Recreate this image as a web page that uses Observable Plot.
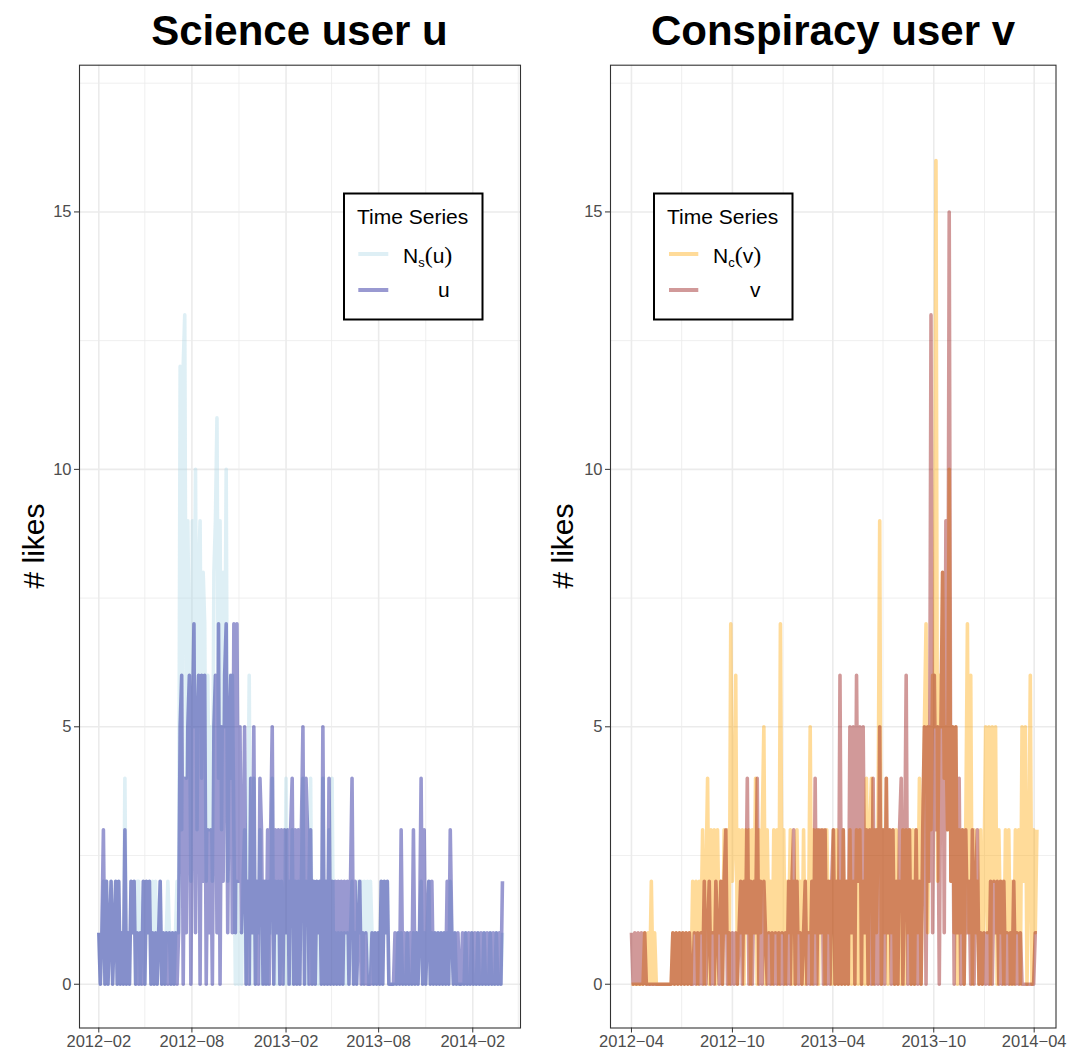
<!DOCTYPE html>
<html><head><meta charset="utf-8">
<script src="https://cdn.jsdelivr.net/npm/d3@7"></script>
<script src="https://cdn.jsdelivr.net/npm/@observablehq/plot@0.6"></script>
<style>
body{margin:0;background:#fff;}
#root{position:relative;width:1081px;height:1053px;overflow:hidden;font-family:"Liberation Sans",Arial,sans-serif;background:#fff;}
#left,#right{position:absolute;top:0;}
#left{left:0}
#right{left:540px}
#overlay{position:absolute;left:0;top:0;pointer-events:none;}
</style></head><body>
<div id="root">
<div id="left"></div>
<div id="right"></div>
<svg id="overlay" width="1081" height="1053" font-family="Liberation Sans, Arial, sans-serif">
  <text x="299.5" y="45" text-anchor="middle" font-size="42" font-weight="bold">Science user u</text>
  <text x="833" y="45" text-anchor="middle" font-size="42" font-weight="bold">Conspiracy user v</text>
  <text transform="translate(44,546) rotate(-90)" text-anchor="middle" font-size="30"># likes</text>
  <text transform="translate(573,546) rotate(-90)" text-anchor="middle" font-size="30"># likes</text>
  <g id="legL">
    <rect x="344" y="193.5" width="138.5" height="126" fill="#fff" stroke="#000" stroke-width="2"/>
    <text x="357" y="224" font-size="21">Time Series</text>
    <line x1="358.3" x2="388.3" y1="254" y2="254" stroke="lightblue" stroke-opacity="0.4" stroke-width="4"/>
    <line x1="358.3" x2="388.3" y1="290" y2="290" stroke="darkblue" stroke-opacity="0.4" stroke-width="4"/>
    <text x="403" y="263" font-size="21">N<tspan font-size="13" dy="4">s</tspan><tspan dy="-4" font-family="Liberation Serif, serif" font-size="24">(</tspan>u<tspan font-family="Liberation Serif, serif" font-size="24">)</tspan></text>
    <text x="438" y="297" font-size="21">u</text>
  </g>
  <g id="legR">
    <rect x="654" y="193.5" width="138.5" height="126" fill="#fff" stroke="#000" stroke-width="2"/>
    <text x="667" y="224" font-size="21">Time Series</text>
    <line x1="669" x2="698.3" y1="254" y2="254" stroke="orange" stroke-opacity="0.4" stroke-width="4"/>
    <line x1="669" x2="698.3" y1="290" y2="290" stroke="darkred" stroke-opacity="0.4" stroke-width="4"/>
    <text x="713" y="263" font-size="21">N<tspan font-size="13" dy="4">c</tspan><tspan dy="-4" font-family="Liberation Serif, serif" font-size="24">(</tspan>v<tspan font-family="Liberation Serif, serif" font-size="24">)</tspan></text>
    <text x="750" y="297" font-size="21">v</text>
  </g>
</svg>
</div>
<script>
// ---- data: likes per 3-day step ----
const stepDays = 3;
const uStart = "2012-02-01";
const vStart = "2012-04-01";

const uLikes = [
1,0,1,3,0,2,0,1,2,0, 1,2,0,2,0,1,0,3,0,1, 0,2,1,2,0,1,0,1,0,2, 0,2,1,2,0,1,0,1,0,1,
2,0,1,0,1,0,1,0,1,0, 1,0,1,5,6,0,4,1,5,6, 0,5,7,1,5,6,0,6,2,6, 0,3,1,3,0,5,6,1,7,0,
5,2,6,7,1,5,6,1,7,1, 7,2,5,1,2,5,0,2,0,4, 1,5,0,2,0,4,3,0,2,0, 3,0,3,5,0,3,1,3,0,3,
0,3,1,3,0,3,4,0,3,0, 3,0,3,5,0,4,3,0,3,0, 2,0,2,1,2,0,5,0,2,0, 4,0,2,0,2,0,2,0,2,0,
2,1,2,0,2,4,0,2,0,1, 2,0,1,0,1,0,0,0,1,0, 1,0,1,0,2,0,2,1,2,0, 0,0,0,1,0,1,0,3,0,1,
0,1,0,1,0,3,0,1,0,1, 4,0,3,0,1,2,0,2,0,1, 0,1,0,1,0,1,0,2,0,3, 1,0,1,0,1,0,0,1,0,1,
0,1,0,1,0,1,0,1,0,1, 0,1,0,1,0,1,0,1,0,1, 0,1,0,2];

const nsLikes = [
1,0,1,2,0,2,0,1,2,0, 1,2,0,2,0,1,0,4,0,1, 0,2,1,2,0,2,2,0,1,2, 0,2,1,2,0,2,0,2,0,1,
2,0,1,0,1,2,1,0,1,0, 1,2,1,12,3,12,13,4,9,6, 2,9,5,10,3,8,9,4,8,7, 2,6,3,5,2,8,9,11,4,9,
3,8,5,10,2,6,4,6,3,0, 2,0,1,0,2,3,0,2,6,0, 2,4,0,2,1,3,0,2,0,2, 0,2,1,4,0,2,0,2,0,2,
1,0,4,0,2,0,3,0,2,0, 2,0,2,4,0,2,0,2,4,0, 2,0,2,0,2,0,4,0,2,0, 3,0,4,0,1,0,1,0,1,0,
1,0,1,0,1,2,0,1,0,2, 1,2,0,2,1,2,0,2,1,0, 1,0,1,0,2,0,2,1,2,0, 0,0,0,0,0,1,0,1,0,0,
0,1,0,0,0,1,0,1,0,1, 2,0,1,0,1,2,0,1,0,1, 0,1,0,1,0,1,0,1,0,2, 1,0,1,0,0,0,0,0,0,1,
0,0,0,1,0,0,0,1,0,0, 0,1,0,0,0,1,0,0,0,1, 0,0,0,1];

const vLikes = [
1,0,1,0,1,0,1,0,1,0, 0,0,0,0,0,0,0,0,0,0, 0,0,0,0,0,1,0,1,0,1, 0,1,0,1,0,1,0,0,1,0,
1,0,1,0,2,0,1,2,0,1, 0,2,1,0,2,0,2,3,0,1, 0,1,0,1,0,1,2,0,2,1, 4,0,2,0,2,1,4,0,2,0,
2,1,0,1,0,1,0,1,0,1, 0,1,0,1,0,2,0,2,3,0, 2,0,1,0,1,2,0,1,0,2, 0,4,0,3,1,3,0,3,0,2,
0,2,3,0,2,0,6,0,3,0, 2,0,5,1,5,0,6,2,5,0, 5,1,3,0,3,0,4,0,3,0, 5,0,3,0,4,1,3,0,3,0,
2,0,3,4,0,2,6,0,3,0, 2,0,3,0,2,0,3,5,0,5, 2,13,1,6,3,5,0,5,8,1, 9,3,15,2,5,0,5,1,4,0,
3,0,3,1,2,0,3,0,2,3, 0,1,0,1,0,1,0,2,0,2, 1,2,0,2,0,2,0,1,0,1, 0,2,0,1,0,1,0,0,0,0,
0,0,0,0,1,1];

const ncLikes = [
0,0,0,0,0,0,0,0,1,0, 1,0,2,0,1,0,0,0,0,0, 0,0,0,0,0,1,0,1,0,1, 0,1,0,1,0,1,0,2,1,2,
0,2,1,3,0,2,4,0,3,1, 3,0,3,1,2,0,3,1,3,0, 7,2,3,6,0,3,1,3,0,3, 1,3,0,3,1,4,0,3,1,3,
5,0,3,1,2,0,3,1,3,0, 7,1,3,0,2,1,3,0,2,0, 3,1,2,0,3,0,2,1,5,0, 3,1,3,0,3,1,3,0,3,1,
2,0,3,0,3,0,2,0,3,0, 2,0,3,0,2,0,3,0,3,0, 2,0,4,0,3,4,0,3,1,3, 9,0,3,1,4,0,3,1,3,0,
3,0,2,0,3,0,3,1,3,0, 3,0,3,1,4,0,3,5,7,1, 5,3,6,5,16,2,6,5,8,4, 5,3,10,2,5,1,5,0,3,1,
3,0,3,7,1,6,0,3,1,2, 0,3,0,2,5,1,5,0,5,2, 5,0,3,1,2,0,3,1,3,0, 2,0,3,1,3,0,5,2,5,0,
2,6,0,3,1,3];

const yMajor = [0, 5, 10, 15];
const yMinor = [2.5, 7.5, 12.5, 17.5];
const uTicks = ["2012-02-01","2012-08-01","2013-02-01","2013-08-01","2014-02-01"];
const uMinor = ["2012-05-01","2012-11-01","2013-05-01","2013-11-01","2014-05-01"];
const vTicks = ["2012-04-01","2012-10-01","2013-04-01","2013-10-01","2014-04-01"];
const vMinor = ["2012-07-01","2013-01-01","2013-07-01","2014-01-01"];

const DAY = 864e5;
function toSeries(start, values) {
  const t0 = new Date(start + "T00:00:00Z").getTime();
  return values.map((v, i) => ({date: new Date(t0 + i * stepDays * DAY), value: v}));
}
const D = s => new Date(s.length > 10 ? s : s + "T00:00:00Z");
const fmtDate = d => d3.utcFormat("%Y-%m")(d).replace("-", "\u2212");

function panel({back, front, backColor, frontColor, ticks, minor, domain, width, ml, mr}) {
  return Plot.plot({
    width, height: 1053,
    marginLeft: ml, marginRight: mr, marginTop: 64.7, marginBottom: 25.5,
    x: {type: "utc", domain: domain.map(D), label: null},
    y: {domain: [-0.85, 17.85], label: null},
    style: {fontFamily: "Liberation Sans, Arial, sans-serif", fontSize: "16.5px", background: "transparent", overflow: "visible"},
    marks: [
      Plot.gridY(yMinor, {stroke: "#ebebeb", strokeOpacity: 1, strokeWidth: 0.8}),
      Plot.gridX(minor.map(D), {stroke: "#ebebeb", strokeOpacity: 1, strokeWidth: 0.8}),
      Plot.gridY(yMajor, {stroke: "#ebebeb", strokeOpacity: 1, strokeWidth: 1.6}),
      Plot.gridX(ticks.map(D), {stroke: "#ebebeb", strokeOpacity: 1, strokeWidth: 1.6}),
      Plot.line(back, {x: "date", y: "value", stroke: backColor, strokeOpacity: 0.4, strokeWidth: 3.6, strokeLinejoin: "round", strokeLinecap: "butt"}),
      Plot.line(front, {x: "date", y: "value", stroke: frontColor, strokeOpacity: 0.4, strokeWidth: 3.6, strokeLinejoin: "round", strokeLinecap: "butt"}),
      Plot.frame({stroke: "#333", strokeWidth: 1.1}),
      Plot.axisY(yMajor, {tickSize: 5, tickPadding: 3, tickFormat: d => String(d), stroke: "#333", fill: "#4d4d4d", label: null, fontSize: 16.5}),
      Plot.axisX(ticks.map(D), {tickSize: 5, tickPadding: 2, tickFormat: fmtDate, stroke: "#333", fill: "#4d4d4d", label: null, fontSize: 16.5})
    ]
  });
}

document.getElementById("left").append(panel({
  back: toSeries(uStart, nsLikes), front: toSeries(uStart, uLikes),
  backColor: "lightblue", frontColor: "darkblue",
  ticks: uTicks, minor: uMinor,
  domain: ["2011-12-25T06:30:00Z", "2014-05-05T07:00:00Z"],
  width: 540, ml: 79, mr: 20
}));
document.getElementById("right").append(panel({
  back: toSeries(vStart, ncLikes), front: toSeries(vStart, vLikes),
  backColor: "orange", frontColor: "darkred",
  ticks: vTicks, minor: vMinor,
  domain: ["2012-02-23T00:00:00Z", "2014-05-10T14:00:00Z"],
  width: 541, ml: 70, mr: 25.5
}));
</script>
</body></html>
